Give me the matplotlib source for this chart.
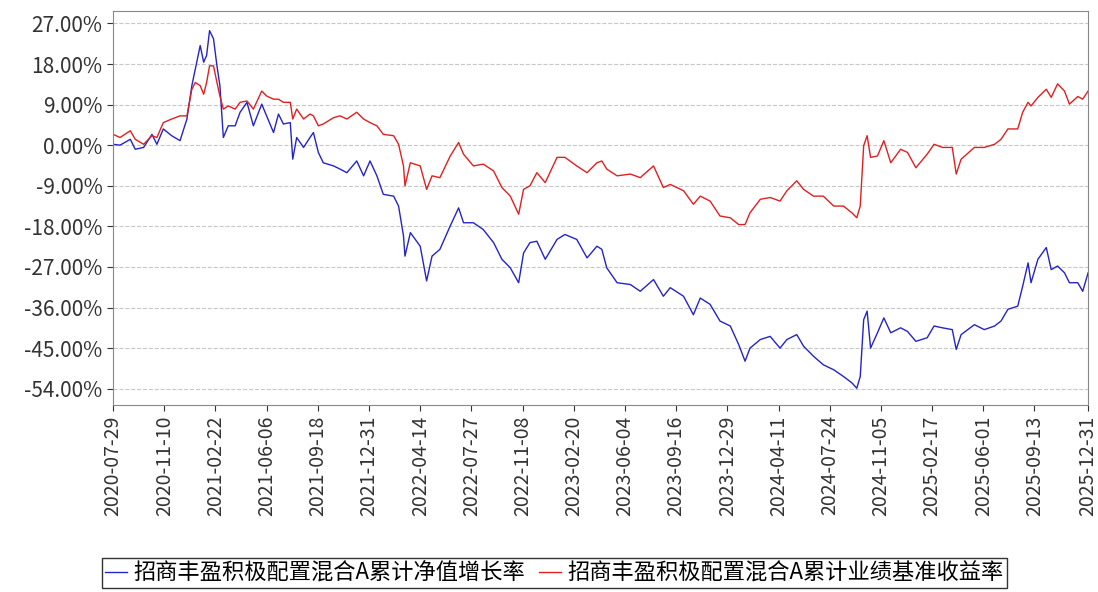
import matplotlib
matplotlib.use("Agg")
import matplotlib.pyplot as plt
import matplotlib.dates as mdates
import matplotlib.ticker as mticker
import pandas as pd

plt.rcParams['font.family'] = ['Noto Sans CJK SC', 'DejaVu Sans']

dates = ['2020-07-29', '2020-08-12', '2020-09-02', '2020-09-12', '2020-09-29', '2020-10-16',
         '2020-10-26', '2020-11-08', '2020-11-25', '2020-12-12', '2020-12-26', '2021-01-05',
         '2021-01-12', '2021-01-22', '2021-01-29', '2021-02-04', '2021-02-10', '2021-02-18',
         '2021-02-25', '2021-03-03', '2021-03-10', '2021-03-20', '2021-04-03', '2021-04-13',
         '2021-04-27', '2021-05-10', '2021-05-27', '2021-06-06', '2021-06-20', '2021-06-30',
         '2021-07-10', '2021-07-24', '2021-07-29', '2021-08-06', '2021-08-20', '2021-09-02',
         '2021-09-09', '2021-09-19', '2021-09-29', '2021-10-20', '2021-11-02', '2021-11-16',
         '2021-12-06', '2021-12-20', '2022-01-02', '2022-01-16', '2022-01-29', '2022-02-19',
         '2022-03-01', '2022-03-11', '2022-03-14', '2022-03-25', '2022-04-14', '2022-04-27',
         '2022-05-08', '2022-05-24',
         '2022-06-14', '2022-07-01', '2022-07-11', '2022-07-31', '2022-08-20', '2022-09-10',
         '2022-09-27', '2022-10-14', '2022-10-31', '2022-11-10', '2022-11-23', '2022-12-07',
         '2022-12-24', '2023-01-17', '2023-02-02', '2023-02-26', '2023-03-19', '2023-04-08',
         '2023-04-18', '2023-04-28', '2023-05-19', '2023-06-15', '2023-07-05', '2023-08-01',
         '2023-08-21', '2023-09-04', '2023-10-01', '2023-10-21', '2023-11-04', '2023-11-24',
         '2023-12-14', '2024-01-04', '2024-01-21', '2024-02-03', '2024-02-13', '2024-03-05',
         '2024-03-25', '2024-04-14', '2024-04-28', '2024-05-18', '2024-06-01', '2024-06-21',
         '2024-07-11', '2024-08-01', '2024-08-21', '2024-09-07', '2024-09-17', '2024-09-24',
         '2024-10-01', '2024-10-08', '2024-10-15', '2024-10-29', '2024-11-11', '2024-11-25',
         '2024-12-15', '2024-12-29', '2025-01-15', '2025-02-07', '2025-02-21', '2025-03-10',
         '2025-03-30', '2025-04-07', '2025-04-17', '2025-05-14', '2025-06-03', '2025-06-24',
         '2025-07-07', '2025-07-21', '2025-08-10', '2025-08-20', '2025-08-31', '2025-09-06',
         '2025-09-20', '2025-10-07', '2025-10-17', '2025-10-30', '2025-11-13', '2025-11-23',
         '2025-12-10', '2025-12-20', '2025-12-31']

fund_nav = [0.2, 0.0, 1.3, -0.9, -0.5, 2.4, 0.2, 3.6, 2.1, 1.0, 5.8, 13.2,
            16.9, 22.1, 18.4, 19.9, 25.4, 23.6, 17.6, 13.2, 1.7, 4.3, 4.3, 7.3,
            9.5, 4.3, 9.1, 6.5, 2.8, 6.9, 4.7, 5.0, -3.1, 1.7, -0.5, 1.7, 2.8,
            -1.6, -3.9, -4.6, -5.3, -6.1, -3.5, -6.8, -3.5, -6.8, -10.9, -11.3,
            -13.5, -20.1, -24.6, -19.4, -22.4, -30.1, -24.6, -23.1,
            -17.9, -13.9, -17.2, -17.2, -18.7, -21.6, -25.3, -27.2, -30.5, -23.9,
            -21.6, -21.3, -25.3, -20.9, -19.8, -20.9, -25.0, -22.4, -23.1, -27.2,
            -30.5, -30.9, -32.4, -29.8, -33.5, -31.6, -33.5, -37.6, -33.9, -35.3,
            -39.0, -40.1, -44.2, -47.9, -45.0, -43.1,
            -42.4, -45.0, -43.1, -42.0, -44.6, -46.8, -48.7, -49.8, -51.3, -52.7,
            -53.9, -51.3, -38.7, -36.8, -45.0, -41.6, -38.3, -41.6, -40.5, -41.3,
            -43.5, -42.7, -40.1, -40.5, -40.9, -45.3, -42.0, -39.8, -40.9, -40.1,
            -39.0, -36.4, -35.7, -31.3, -26.1, -30.5, -25.3, -22.7, -27.6, -26.8,
            -28.3, -30.5, -30.5, -32.4, -28.3]

benchmark = [2.4, 1.7, 3.2, 1.3, 0.2, 2.1, 1.7, 5.0, 5.8, 6.5, 6.5, 12.4,
             13.9, 13.2, 11.3, 13.9, 17.6, 17.6, 13.9, 10.9, 8.0, 8.7, 8.0, 9.5,
             9.8, 8.0, 12.0, 10.9, 10.2, 10.2, 9.5, 9.5, 5.8, 8.0, 5.8, 6.9, 6.5,
             4.3, 4.7, 6.1, 6.5, 5.8, 7.3, 5.8, 5.0, 4.3, 2.4, 2.1, 0.2, -4.6,
             -9.0, -3.9, -4.6, -9.8, -6.8, -7.2,
             -2.4, 0.6, -2.0, -4.6, -4.2, -5.7, -9.4, -11.3, -15.3, -9.8,
             -9.0, -6.1, -8.3, -2.7, -2.7, -4.6, -6.1, -3.9, -3.5, -5.3,
             -6.8, -6.4, -7.2, -4.6, -9.4, -8.7, -10.1, -13.1, -11.3, -12.4,
             -15.7, -16.1, -17.6, -17.6, -15.0, -12.0,
             -11.6, -12.4, -10.1, -7.9, -9.8, -11.3, -11.3, -13.5, -13.5, -15.0,
             -16.1, -13.5, -0.1, 2.1, -2.7, -2.4, 1.0, -3.9, -0.9, -1.6,
             -5.0, -2.0, 0.2, -0.5, -0.5, -6.4, -3.1, -0.5, -0.5, 0.2,
             1.3, 3.6, 3.6, 7.3, 9.5, 8.7, 10.6, 12.4, 10.6, 13.6,
             12.0, 9.1, 10.8, 10.2, 12.0]

tick_dates = ['2020-07-29', '2020-11-10', '2021-02-22', '2021-06-06', '2021-09-18',
              '2021-12-31', '2022-04-14', '2022-07-27', '2022-11-08', '2023-02-20',
              '2023-06-04', '2023-09-16', '2023-12-29', '2024-04-11', '2024-07-24',
              '2024-11-05', '2025-02-17', '2025-06-01', '2025-09-13', '2025-12-31']
y_ticks = [27, 18, 9, 0, -9, -18, -27, -36, -45, -54]

label_fund = '招商丰盈积极配置混合A累计净值增长率'
label_bench = '招商丰盈积极配置混合A累计业绩基准收益率'

x = pd.to_datetime(dates)
fig = plt.figure(figsize=(10.98, 5.92), dpi=100)
ax = fig.add_axes([0.103, 0.316, 0.888, 0.665])
ax.plot(x, fund_nav, color='#2424c8', lw=1.0, label=label_fund)
ax.plot(x, benchmark, color='#e02020', lw=1.0, label=label_bench)

ax.set_xlim(pd.Timestamp('2020-07-29'), pd.Timestamp('2025-12-31'))
ax.set_ylim(-57.6, 29.7)
ax.set_yticks(y_ticks)
ax.yaxis.set_major_formatter(mticker.FuncFormatter(lambda v, p: '%.2f%%' % v))
ax.set_xticks(pd.to_datetime(tick_dates))
ax.xaxis.set_major_formatter(mdates.DateFormatter('%Y-%m-%d'))
for lab in ax.get_xticklabels():
    lab.set_rotation(90)
ax.tick_params(axis='x', labelsize=14, colors='#333333', length=4)
ax.tick_params(axis='y', labelsize=15, colors='#333333', length=4)
ax.grid(axis='y', linestyle='--', color='#c8c8c8', lw=0.8)
for s in ax.spines.values():
    s.set_color('#888888')

leg = fig.legend(loc='lower center', bbox_to_anchor=(0.505, -0.012), ncol=2, fontsize=16,
                 frameon=True, fancybox=False, edgecolor='black', handlelength=1.0,
                 handletextpad=0.3, columnspacing=0.6, borderpad=0.15)
leg.get_frame().set_linewidth(1.0)

plt.savefig('out.png', dpi=100)
